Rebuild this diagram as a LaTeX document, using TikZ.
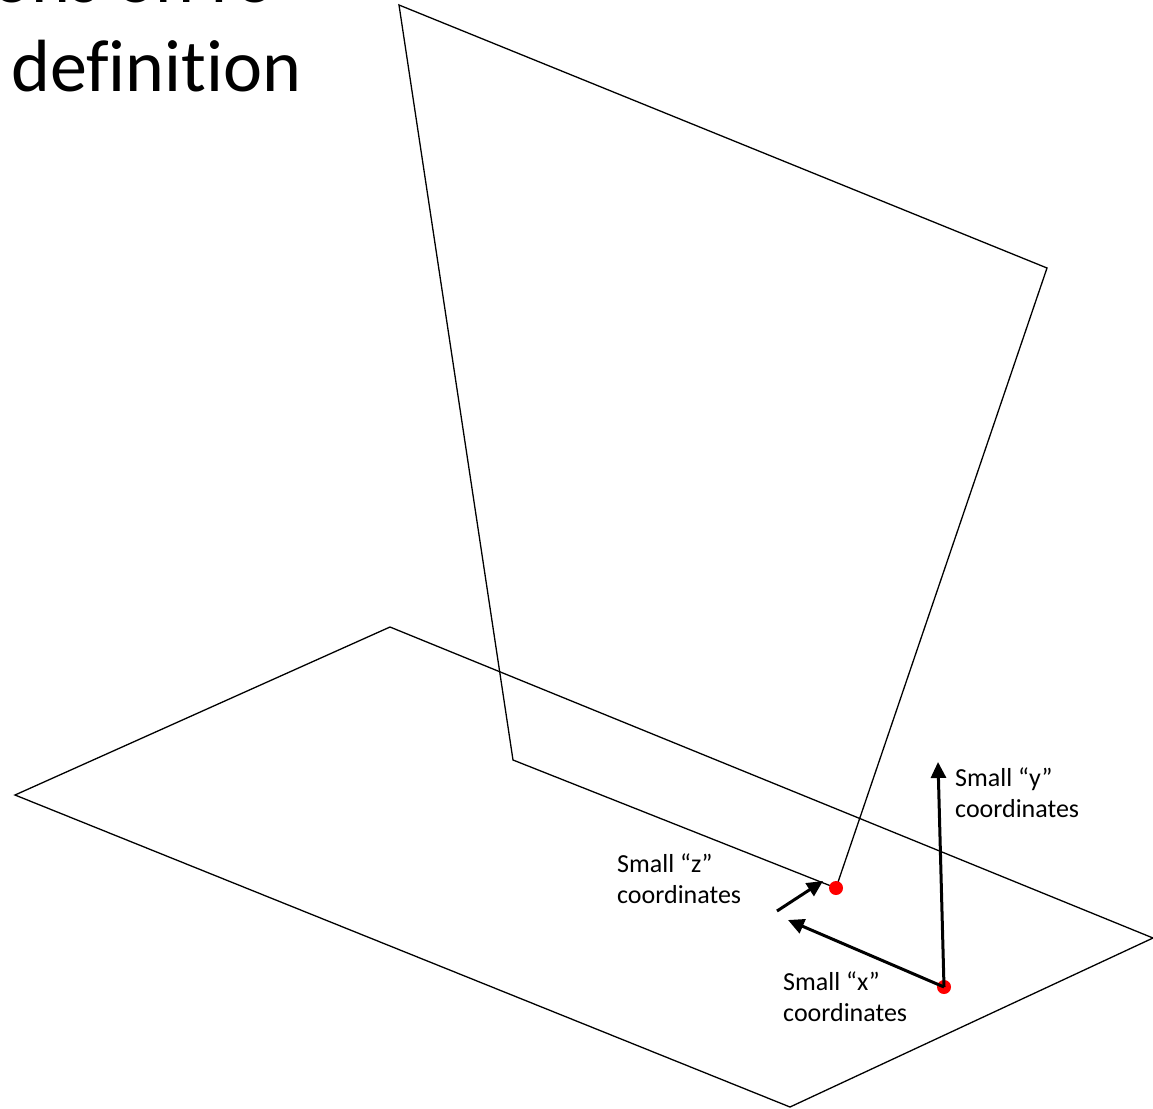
\documentclass[tikz,border=0pt]{standalone}
\usepackage{fontspec}
\setmainfont[Ligatures=NoCommon]{Carlito}
\usetikzlibrary{arrows.meta}
\begin{document}
\begin{tikzpicture}[x=1pt,y=-1pt,
  thinline/.style={line width=1.3pt, line join=miter},
  axisarrow/.style={line width=3pt, -{Triangle[length=16pt,width=15pt]}},
  reddot/.style={circle, fill=red, inner sep=0pt, minimum size=14pt},
  lbl/.style={anchor=base west, inner sep=0pt, font=\fontsize{26}{31}\selectfont, align=left}]
\useasboundingbox (0,0) rectangle (1153,1108);
\begin{scope}
\clip (0,0) rectangle (1153,1108);
\node[anchor=base east, inner sep=0pt, font=\fontsize{74}{88}\selectfont] (title1) at (275,3) {tions on ro};
\end{scope}
\node[anchor=base west, inner sep=0pt, font=\fontsize{74}{88}\selectfont] (title2) at (11,92) {definition};
% ground plane
\coordinate (gL) at (15,795);
\coordinate (gT) at (390,627);
\coordinate (gR) at (1153,938);
\coordinate (gB) at (790,1107);
\draw[thinline] (gL) -- (gT) -- (gR) -- (gB) -- cycle;
% vertical plane
\coordinate (vTL) at (399,5);
\coordinate (vTR) at (1047,268);
\coordinate (vBR) at (836,888);
\coordinate (vBL) at (513,760);
\draw[thinline] (vTL) -- (vTR) -- (vBR) -- (vBL) -- cycle;
% points
\node[reddot] (p1) at (836,888) {};
\node[reddot] (p2) at (944,987) {};
% arrows
\coordinate (yend) at (938,762);
\coordinate (xend) at (788,920);
\coordinate (zstart) at (777,911);
\coordinate (zend) at (823,881);
\draw[axisarrow] (p2.center) -- (yend);
\draw[axisarrow] (p2.center) -- (xend);
\draw[axisarrow] (zstart) -- (zend);
% labels
\node[lbl] (ly) at (955,817) {Small “y”\\coordinates};
\node[lbl] (lz) at (617,903) {Small “z”\\coordinates};
\node[lbl] (lx) at (783,1021) {Small “x”\\coordinates};
\end{tikzpicture}
\end{document}
